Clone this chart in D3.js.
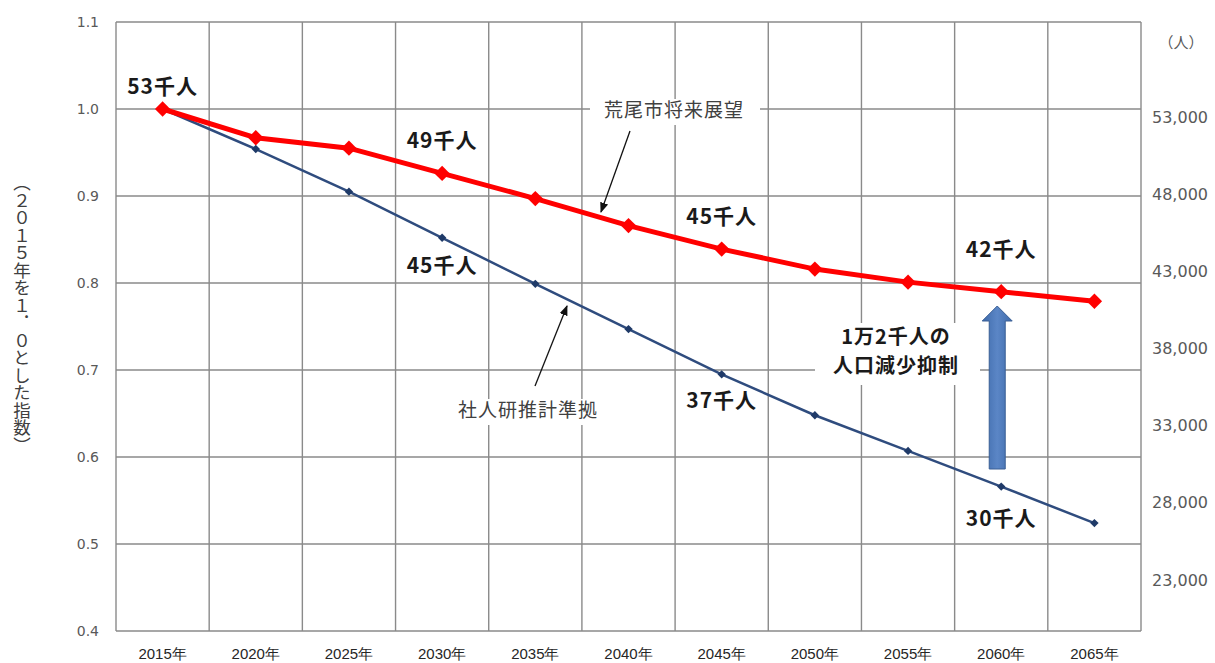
<!DOCTYPE html>
<html lang="ja">
<head>
<meta charset="UTF-8">
<title>荒尾市 人口の将来展望</title>
<script src="https://d3js.org/d3.v7.min.js"></script>
<style>
    body { margin: 0; background: #fff; }
    svg { display: block; font-family: "Noto Sans CJK JP", "DejaVu Sans", sans-serif; }
    .tick text { fill: #595959; }
    .grid line { stroke: #8a8a8a; stroke-width: 1.4; }
    .lbl { font-weight: bold; fill: #1a1a1a; font-size: 21px; letter-spacing: 1px; }
    .note { font-size: 19px; fill: #404040; letter-spacing: 1px; }
</style>
</head>
<body>
<svg id="chart" width="1215" height="663"></svg>
<script>
// categories (x axis)
const years = ["2015年", "2020年", "2025年", "2030年", "2035年", "2040年",
               "2045年", "2050年", "2055年", "2060年", "2065年"];
// 荒尾市将来展望 (index, 2015 = 1.0)
const araoVision = [1.000, 0.967, 0.955, 0.926, 0.897, 0.866, 0.839, 0.816, 0.801, 0.790, 0.779];
// 社人研推計準拠 (index, 2015 = 1.0)
const ipssBase = [1.000, 0.954, 0.905, 0.852, 0.799, 0.747, 0.695, 0.648, 0.607, 0.566, 0.524];
// left axis ticks
const leftTicks = [0.4, 0.5, 0.6, 0.7, 0.8, 0.9, 1.0, 1.1];
// right axis labels (people)
const rightTicks = [53000, 48000, 43000, 38000, 33000, 28000, 23000];
// point labels: [year, text]
const redLabels = [["2015年", "53千人"], ["2030年", "49千人"], ["2045年", "45千人"], ["2060年", "42千人"]];
const blueLabels = [["2030年", "45千人"], ["2045年", "37千人"], ["2060年", "30千人"]];

const svg = d3.select("#chart");
const mL = 116, mR = 1141, mT = 22, mB = 631;

const x = d3.scaleBand().domain(years).range([mL, mR]);
const y = d3.scaleLinear().domain([0.4, 1.1]).range([mB, mT]);
// right labels were placed as text boxes, spacing a bit tighter than the grid
const yR = d3.scaleLinear().domain([23000, 53000]).range([580, 117]);

// grid
const grid = svg.append("g").attr("class", "grid");
grid.selectAll(".h").data(leftTicks).join("line")
    .attr("x1", mL).attr("x2", mR)
    .attr("y1", d => y(d)).attr("y2", d => y(d));
grid.selectAll(".v").data(d3.range(years.length + 1)).join("line")
    .attr("x1", i => mL + i * x.step()).attr("x2", i => mL + i * x.step())
    .attr("y1", mT).attr("y2", mB);

// left axis
const yAxis = svg.append("g").attr("transform", `translate(${mL},0)`)
    .call(d3.axisLeft(y).tickValues(leftTicks).tickFormat(d3.format(".1f")).tickSize(0).tickPadding(17));
yAxis.select(".domain").remove();
yAxis.selectAll("text").style("font-size", "14px").style("font-family", "DejaVu Sans, sans-serif");

// bottom axis
const xAxis = svg.append("g").attr("transform", `translate(0,${mB})`)
    .call(d3.axisBottom(x).tickSize(0).tickPadding(17));
xAxis.select(".domain").remove();
xAxis.selectAll("text").style("font-size", "15px").style("fill", "#262626").style("font-weight", "500");

// right axis
const rAxis = svg.append("g").attr("transform", `translate(${mR},0)`)
    .call(d3.axisRight(yR).tickValues(rightTicks).tickFormat(d3.format(",")).tickSize(0).tickPadding(11));
rAxis.select(".domain").remove();
rAxis.selectAll("text").style("font-size", "16px").style("font-family", "DejaVu Sans, sans-serif");
svg.append("text").attr("x", 1181).attr("y", 44).attr("text-anchor", "middle")
    .attr("dominant-baseline", "middle").style("font-size", "15px").style("fill", "#595959")
    .text("（人）");

// left axis title (vertical)
svg.append("text")
    .attr("x", 22).attr("y", 174)
    .style("writing-mode", "vertical-rl")
    .style("font-size", "17.5px").style("fill", "#404040")
    .text("（２０１５年を１．０とした指数）");

// lines
const cx = yr => x(yr) + x.bandwidth() / 2;
const line = d3.line().x((d, i) => cx(years[i])).y(d => y(d));

svg.append("path").datum(ipssBase).attr("d", line)
    .attr("fill", "none").attr("stroke", "#2F4C7E").attr("stroke-width", 2.5);
svg.selectAll(".bm").data(ipssBase).join("path")
    .attr("d", d3.symbol(d3.symbolDiamond2, 45))
    .attr("transform", (d, i) => `translate(${cx(years[i])},${y(d)})`)
    .attr("fill", "#1F3A68");

svg.append("path").datum(araoVision).attr("d", line)
    .attr("fill", "none").attr("stroke", "#FF0000").attr("stroke-width", 5);
svg.selectAll(".rm").data(araoVision).join("path")
    .attr("d", d3.symbol(d3.symbolDiamond2, 150))
    .attr("transform", (d, i) => `translate(${cx(years[i])},${y(d)})`)
    .attr("fill", "#FF0000");

// point labels
const redOff = [-21, -31, -31, -40];
svg.selectAll(".rl").data(redLabels).join("text").attr("class", "lbl")
    .attr("x", d => cx(d[0]))
    .attr("y", (d, i) => y(araoVision[years.indexOf(d[0])]) + redOff[i])
    .attr("text-anchor", "middle").attr("dominant-baseline", "middle")
    .text(d => d[1]);
const blueOff = [30, 28, 34];
svg.selectAll(".bl").data(blueLabels).join("text").attr("class", "lbl")
    .attr("x", d => cx(d[0]))
    .attr("y", (d, i) => y(ipssBase[years.indexOf(d[0])]) + blueOff[i])
    .attr("text-anchor", "middle").attr("dominant-baseline", "middle")
    .text(d => d[1]);

// series callouts
const defs = svg.append("defs");
defs.append("marker").attr("id", "ah")
    .attr("viewBox", "0 0 10 10").attr("refX", 9).attr("refY", 5)
    .attr("markerWidth", 8).attr("markerHeight", 8).attr("orient", "auto")
    .append("path").attr("d", "M0,1 L10,5 L0,9 Z").attr("fill", "#111");

svg.append("rect").attr("x", 590).attr("y", 99).attr("width", 170).attr("height", 26).attr("fill", "#fff");
svg.append("text").attr("class", "note").attr("x", 674).attr("y", 112).attr("text-anchor", "middle")
    .attr("dominant-baseline", "middle")
    .text("荒尾市将来展望");
svg.append("line").attr("x1", 630).attr("y1", 131).attr("x2", 601).attr("y2", 212)
    .attr("stroke", "#111").attr("stroke-width", 1.3).attr("marker-end", "url(#ah)");

svg.append("rect").attr("x", 450).attr("y", 399).attr("width", 156).attr("height", 26).attr("fill", "#fff");
svg.append("text").attr("class", "note").attr("x", 528).attr("y", 412).attr("text-anchor", "middle")
    .attr("dominant-baseline", "middle")
    .text("社人研推計準拠");
svg.append("line").attr("x1", 535).attr("y1", 386).attr("x2", 567).attr("y2", 306)
    .attr("stroke", "#111").attr("stroke-width", 1.3).attr("marker-end", "url(#ah)");

// 抑制 note
svg.append("rect").attr("x", 815).attr("y", 323).attr("width", 165).attr("height", 62).attr("fill", "#fff");
svg.append("text").attr("class", "lbl").attr("x", 896).attr("y", 339)
    .attr("text-anchor", "middle").attr("dominant-baseline", "middle").style("font-size", "20px")
    .text("1万2千人の");
svg.append("text").attr("class", "lbl").attr("x", 896).attr("y", 368)
    .attr("text-anchor", "middle").attr("dominant-baseline", "middle").style("font-size", "20px")
    .text("人口減少抑制");

// block arrow (from blue 2060 toward red 2060)
const grad = defs.append("linearGradient").attr("id", "bg")
    .attr("x1", 0).attr("x2", 1).attr("y1", 0).attr("y2", 0);
grad.append("stop").attr("offset", "0%").attr("stop-color", "#3E6AAA");
grad.append("stop").attr("offset", "50%").attr("stop-color", "#5B86C6");
grad.append("stop").attr("offset", "100%").attr("stop-color", "#3E6AAA");
const ax = cx("2060年") - 4;
const aTop = 306, aBase = 321, aBot = 469;
svg.append("path")
    .attr("d", `M${ax},${aTop} L${ax + 15},${aBase} L${ax + 8},${aBase} L${ax + 8},${aBot}
                L${ax - 8},${aBot} L${ax - 8},${aBase} L${ax - 15},${aBase} Z`)
    .attr("fill", "url(#bg)").attr("stroke", "#3A5F95").attr("stroke-width", 1);
</script>
</body>
</html>
